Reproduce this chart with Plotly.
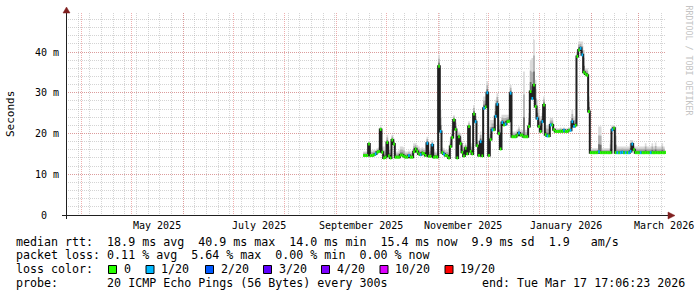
import numpy as np
import pandas as pd
import plotly.graph_objects as go

# ---------------- data ----------------
first_day = "2025-09-17"          # first day with samples (one value per day)

median_ms = [
    14.6, 14.6, 14.6, 17.4, 14.6, 14.6, 14.8, 15.0, 15.4, 15.6,
    21.0, 15.4, 14.0, 14.2, 17.8, 14.5, 14.0, 18.4, 17.4, 14.2,
    14.2, 14.2, 14.7, 14.7, 14.4, 14.2, 14.2, 14.6, 14.2, 14.2,
    15.5, 16.2, 15.6, 15.0, 14.8, 15.2, 15.1, 14.6, 17.6, 14.4,
    14.4, 17.2, 14.2, 14.3, 14.2, 36.5, 20.5, 15.3, 15.0, 14.6,
    14.5, 14.0, 16.8, 19.0, 23.3, 21.0, 14.0, 19.2, 17.5, 15.4,
    14.5, 16.4, 15.0, 21.7, 15.6, 15.0, 24.8, 22.9, 17.0, 14.6,
    18.0, 14.5, 26.2, 26.5, 30.0, 14.6, 18.5, 20.9, 20.9, 24.2,
    27.2, 20.0, 16.2, 22.7, 22.1, 22.3, 22.9, 23.0, 29.9, 19.2,
    19.2, 19.2, 19.6, 20.1, 19.6, 19.6, 19.2, 19.2, 19.2, 21.7,
    30.3, 28.6, 31.9, 26.6, 23.7, 21.7, 20.5, 22.9, 27.0, 19.7,
    19.4, 19.4, 22.1, 22.1, 20.9, 20.5, 20.5, 20.5, 20.6, 20.5,
    20.8, 20.5, 20.5, 20.8, 20.8, 22.9, 21.7, 22.0, 38.9, 40.5,
    40.9, 39.3, 35.0, 34.6, 34.3, 25.4, 15.3, 15.3, 15.3, 15.3,
    15.3, 15.5, 15.3, 15.3, 15.3, 15.3, 15.3, 15.3, 15.3, 20.9,
    21.3, 15.3, 15.3, 15.3, 15.3, 15.4, 15.3, 15.3, 15.3, 15.3,
    15.6, 17.4, 16.0, 15.3, 15.3, 15.3, 15.3, 15.3, 15.3, 15.3,
    15.3, 15.3, 15.3, 15.3, 15.3, 15.3, 15.3, 15.3, 15.3, 15.3,
    15.3, 15.4,
]

smoke_top_ms = [
    15.6, 15.6, 15.8, 18.0, 15.9, 15.9, 16.0, 16.0, 16.4, 16.6,
    21.7, 16.8, 16.8, 16.0, 19.7, 16.8, 16.0, 19.7, 18.8, 15.6,
    15.6, 15.8, 16.8, 16.8, 16.6, 15.6, 15.6, 15.8, 15.6, 15.8,
    17.6, 17.6, 17.2, 16.8, 16.4, 16.6, 16.4, 16.0, 19.2, 16.0,
    16.4, 18.4, 16.0, 15.6, 15.6, 39.3, 25.8, 16.6, 16.4, 16.0,
    16.0, 16.0, 19.0, 22.0, 24.5, 23.5, 16.4, 20.5, 20.0, 17.6,
    17.0, 17.6, 17.0, 23.0, 17.6, 17.6, 27.0, 25.0, 18.4, 17.0,
    20.5, 17.6, 29.1, 29.1, 32.8, 19.2, 23.3, 23.3, 23.3, 28.3,
    29.9, 23.3, 18.4, 24.6, 24.6, 24.6, 24.6, 24.6, 31.9, 20.5,
    20.5, 20.5, 21.0, 21.7, 20.9, 20.9, 35.2, 20.9, 20.9, 25.0,
    38.1, 38.5, 43.0, 33.2, 28.3, 25.8, 24.2, 25.0, 29.1, 22.1,
    22.1, 22.1, 23.8, 23.8, 21.3, 21.3, 21.3, 21.3, 21.5, 21.3,
    21.5, 21.3, 21.3, 21.5, 21.5, 25.8, 24.2, 24.2, 40.5, 42.6,
    42.6, 42.6, 40.5, 36.0, 36.0, 29.1, 16.4, 16.4, 16.4, 16.4,
    16.4, 21.7, 21.7, 16.4, 16.4, 16.4, 16.4, 16.4, 18.4, 22.1,
    22.1, 21.7, 16.8, 16.8, 16.8, 16.8, 16.8, 16.8, 16.8, 16.8,
    18.4, 18.4, 17.0, 16.8, 16.8, 16.8, 16.8, 16.8, 16.8, 17.6,
    16.8, 16.8, 16.8, 17.6, 16.8, 17.8, 16.8, 16.8, 16.8, 17.6,
    16.8, 16.8,
]

# lost pings out of 20 per sample
loss_count = [
    0, 0, 0, 0, 0, 0, 0, 1, 0, 0,
    0, 0, 0, 0, 0, 0, 0, 0, 0, 0,
    0, 0, 0, 0, 0, 0, 0, 1, 0, 0,
    0, 0, 0, 0, 1, 0, 0, 0, 1, 0,
    0, 1, 0, 0, 0, 0, 1, 0, 1, 0,
    0, 0, 0, 0, 0, 0, 0, 0, 0, 0,
    0, 0, 0, 0, 0, 0, 0, 1, 0, 0,
    1, 0, 1, 0, 1, 0, 0, 1, 0, 1,
    1, 0, 0, 1, 0, 1, 0, 0, 1, 0,
    0, 0, 0, 1, 0, 0, 0, 0, 0, 0,
    0, 1, 0, 0, 1, 0, 0, 1, 0, 0,
    1, 0, 1, 0, 0, 0, 0, 0, 0, 0,
    1, 0, 0, 0, 1, 1, 1, 0, 0, 0,
    1, 1, 0, 0, 0, 0, 0, 0, 0, 0,
    0, 1, 0, 0, 0, 0, 0, 0, 0, 1,
    0, 0, 1, 0, 1, 1, 0, 1, 0, 1,
    1, 1, 0, 0, 0, 0, 1, 0, 0, 0,
    0, 0, 1, 0, 0, 0, 0, 0, 0, 0,
    0, 0,
]

loss_levels = [0, 1, 2, 3, 4, 10, 19]
loss_labels = ["0", "1/20", "2/20", "3/20", "4/20", "10/20", "19/20"]
loss_colors = ["#26ff00", "#00b8ff", "#0059ff", "#5e00ff", "#7e00ff", "#dd00ff", "#ff0000"]

x_start = "2025-03-22 17:06:23"
x_end = "2026-03-17 17:06:23"
month_label_starts = ["2025-05-01", "2025-07-01", "2025-09-01", "2025-11-01", "2026-01-01", "2026-03-01"]
month_label_text = ["May 2025", "July 2025", "September 2025", "November 2025", "January 2026", "March 2026"]
y_tickvals = [0, 0.01, 0.02, 0.03, 0.04]
y_ticktext = ["0\u00a0\u00a0", "10\u00a0m", "20\u00a0m", "30\u00a0m", "40\u00a0m"]

stat_rtt = "median rtt:  18.9 ms avg  40.9 ms max  14.0 ms min  15.4 ms now  9.9 ms sd  1.9   am/s"
stat_loss = "packet loss: 0.11 % avg  5.64 % max  0.00 % min  0.00 % now"
probe_text = "probe:       20 ICMP Echo Pings (56 Bytes) every 300s"
end_text = "end: Tue Mar 17 17:06:23 2026"

# ---------------- figure ----------------
W, H = 697, 297
L, R, T, B = 66, 31, 13, 82
PW, PH = W - L - R, H - T - B
MONO = "DejaVu Sans Mono"
MAJOR_GRID = "rgba(225,110,110,0.55)"
MINOR_GRID = "rgba(160,160,160,0.45)"


def px(x):
    return (x - L) / PW


def py(y):
    return (H - B - y) / PH


def nb(s):
    return s.replace(" ", "\u00a0")


dates = pd.date_range(first_day, periods=len(median_ms), freq="D")
med = np.array(median_ms) / 1000.0
top = np.array(smoke_top_ms) / 1000.0

fig = go.Figure()

# smoke (lighter further from the median)
for frac, col in [(1.0, "#dadada"), (0.65, "#b0b0b0"), (0.3, "#6e6e6e")]:
    fig.add_trace(go.Scatter(x=dates, y=med, mode="lines",
                             line=dict(width=0, shape="hv"),
                             hoverinfo="skip", showlegend=False))
    fig.add_trace(go.Scatter(x=dates, y=med + frac * (top - med), mode="lines",
                             line=dict(width=0, shape="hv"), fill="tonexty",
                             fillcolor=col, hoverinfo="skip", showlegend=False))

# median line
fig.add_trace(go.Scatter(x=dates, y=med, mode="lines",
                         line=dict(color="#202020", width=2, shape="hv"),
                         showlegend=False))

# loss coloured median pieces
one_day = pd.Timedelta(days=1)
for lvl, col in zip(loss_levels, loss_colors):
    xs, ys = [], []
    for d, v, l in zip(dates, med, loss_count):
        if l == lvl:
            xs += [d, d + one_day, None]
            ys += [v, v, None]
    if xs:
        fig.add_trace(go.Scatter(x=xs, y=ys, mode="lines",
                                 line=dict(color=col, width=3),
                                 showlegend=False))

month_ticks = pd.date_range("2025-04-01", "2026-03-01", freq="MS")
week_ticks = pd.date_range("2025-03-23", "2026-03-17", freq="W-SUN")

fig.update_layout(
    width=W, height=H, autosize=False,
    margin=dict(l=L, r=R, t=T, b=B, pad=0),
    paper_bgcolor="white", plot_bgcolor="white",
    showlegend=False,
    xaxis=dict(
        type="date", range=[x_start, x_end],
        tickmode="array", tickvals=list(month_ticks), ticktext=[""] * len(month_ticks),
        showgrid=True, gridcolor=MAJOR_GRID, griddash="1px,1px", gridwidth=1,
        ticks="", showline=False, zeroline=False, fixedrange=True,
        minor=dict(tickmode="array", tickvals=list(week_ticks), showgrid=True,
                   gridcolor=MINOR_GRID, griddash="1px,1px", gridwidth=1, ticks=""),
    ),
    yaxis=dict(
        range=[0, PH / 4.075 / 1000.0],
        tickmode="array", tickvals=y_tickvals, ticktext=y_ticktext,
        tickfont=dict(family=MONO, size=10, color="black"),
        showgrid=True, gridcolor=MAJOR_GRID, griddash="1px,1px", gridwidth=1,
        ticks="", ticklabelstandoff=6, showline=False, zeroline=False, fixedrange=True,
        minor=dict(dtick=0.002, tick0=0, showgrid=True,
                   gridcolor=MINOR_GRID, griddash="1px,1px", gridwidth=1, ticks=""),
    ),
)

shapes = []
axis_col = "#1f1f1f"
arrow_col = "#802020"
# x axis + arrow
shapes.append(dict(type="line", xref="paper", yref="paper", x0=px(62), x1=px(670),
                   y0=py(215.5), y1=py(215.5), line=dict(color=axis_col, width=1)))
shapes.append(dict(type="path", xref="paper", yref="paper",
                   path=f"M {px(668)},{py(212)} L {px(675)},{py(215.5)} L {px(668)},{py(219)} Z",
                   fillcolor=arrow_col, line=dict(color=arrow_col, width=0.5)))
# y axis + arrow
shapes.append(dict(type="line", xref="paper", yref="paper", x0=px(66.5), x1=px(66.5),
                   y0=py(219), y1=py(12), line=dict(color=axis_col, width=1)))
shapes.append(dict(type="path", xref="paper", yref="paper",
                   path=f"M {px(63)},{py(13)} L {px(66.5)},{py(7)} L {px(70)},{py(13)} Z",
                   fillcolor=arrow_col, line=dict(color=arrow_col, width=0.5)))

annotations = []
# month labels centred in their month
for start_s, txt in zip(month_label_starts, month_label_text):
    s = pd.Timestamp(start_s)
    e = s + pd.offsets.MonthBegin(1)
    mid = s + (e - s) / 2
    annotations.append(dict(x=mid, xref="x", y=py(225), yref="paper", text=nb(txt),
                            showarrow=False, xanchor="center", yanchor="middle",
                            font=dict(family=MONO, size=10, color="black"),
                            borderpad=0, borderwidth=0))

# y title
annotations.append(dict(x=px(10), y=py(114), xref="paper", yref="paper", text="Seconds",
                        textangle=-90, showarrow=False, xanchor="center", yanchor="middle",
                        font=dict(family=MONO, size=11, color="black"), borderpad=0, borderwidth=0))
# watermark
annotations.append(dict(x=px(688.5), y=py(60), xref="paper", yref="paper",
                        text=nb("RRDTOOL / TOBI OETIKER"),
                        textangle=90, showarrow=False, xanchor="center", yanchor="middle",
                        font=dict(family=MONO, size=8.3, color="#c4c4c4"), borderpad=0, borderwidth=0))

LF = dict(family=MONO, size=11.65, color="black")
rows_y = [241.7, 255.4, 269.4, 283.4]
for txt, yy in [(stat_rtt, rows_y[0]), (stat_loss, rows_y[1]), ("loss color:", rows_y[2]),
                (probe_text, rows_y[3])]:
    annotations.append(dict(x=px(16), y=py(yy), xref="paper", yref="paper", text=nb(txt),
                            showarrow=False, xanchor="left", yanchor="middle", font=LF,
                            borderpad=0, borderwidth=0))
annotations.append(dict(x=px(684.5), y=py(rows_y[3]), xref="paper", yref="paper", text=nb(end_text),
                        showarrow=False, xanchor="right", yanchor="middle", font=LF,
                        borderpad=0, borderwidth=0))

box_x = [108.5, 146.0, 205.5, 263.5, 321.5, 380.0, 445.0]
for bx, lab, col in zip(box_x, loss_labels, loss_colors):
    shapes.append(dict(type="rect", xref="paper", yref="paper",
                       x0=px(bx), x1=px(bx + 8), y0=py(273.5), y1=py(265.5),
                       fillcolor=col, line=dict(color="black", width=1)))
    annotations.append(dict(x=px(bx + 15), y=py(rows_y[2]), xref="paper", yref="paper", text=lab,
                            showarrow=False, xanchor="left", yanchor="middle", font=LF,
                            borderpad=0, borderwidth=0))

fig.update_layout(shapes=shapes, annotations=annotations)
fig.write_html("out.html")
